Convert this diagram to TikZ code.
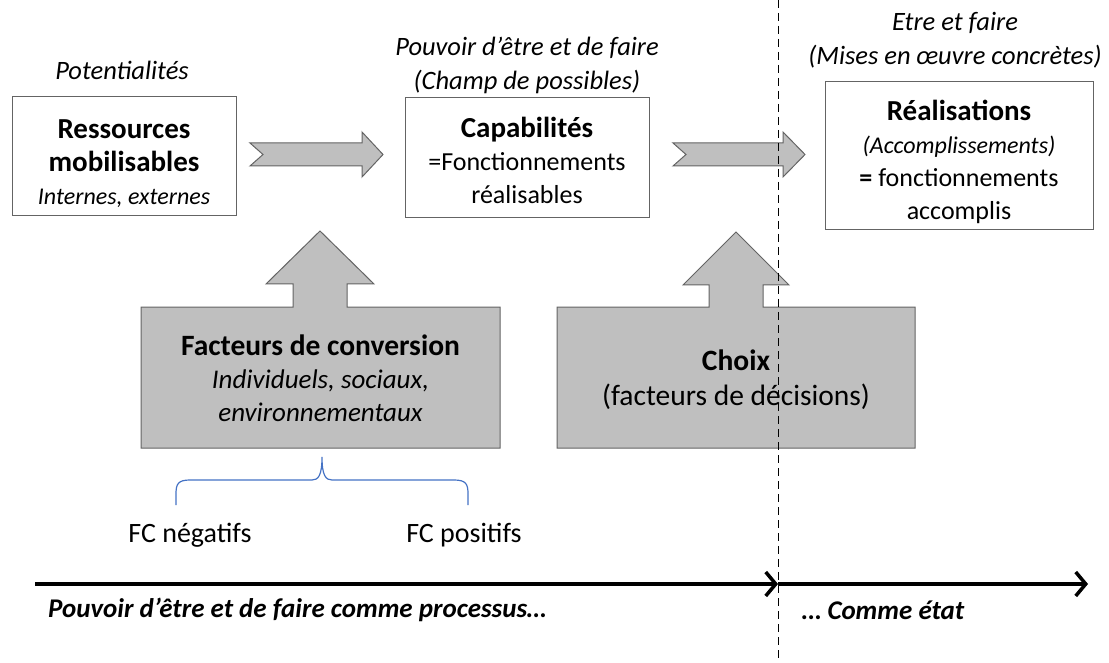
\documentclass[tikz,border=0pt]{standalone}
\usepackage{fontspec}
\setmainfont{Carlito}
\usetikzlibrary{positioning}
\usetikzlibrary{arrows.meta}
\definecolor{blocgris}{RGB}{191,191,191}
\definecolor{traitgris}{RGB}{100,100,100}
\definecolor{accolade}{RGB}{68,114,196}
\newcommand{\gros}[1]{{\fontsize{29}{33}\selectfont\bfseries #1}}
\newcommand{\pench}[1]{{\fontsize{24}{33}\selectfont\itshape #1}}
\tikzset{boite/.style = {draw=traitgris, line width=1pt, fill=white, inner sep=0}}
\tikzset{bloc/.style = {draw=traitgris, line width=1pt, fill=blocgris}}
\tikzset{texte/.style = {align=center, inner sep=0, font=\fontsize{26}{33}\selectfont}}
\tikzset{titre/.style = {texte, font=\fontsize{26.5}{34}\selectfont\itshape}}

\begin{document}
\begin{tikzpicture}[x=1pt, y=-1pt]
    \useasboundingbox (0, 0) rectangle (1109, 663);

    % boites du haut
    \node [boite, minimum width=224, minimum height=119] (res) at (124, 156.5) {};
    \node [texte] (resT) at (124, 164) {\gros{Ressources}\\ \gros{mobilisables}\\ \pench{Internes, externes}};
    \node [boite, minimum width=244, minimum height=120] (cap) at (527, 158) {};
    \node [texte] (capT) at (527, 160) {\gros{Capabilités}\\ =Fonctionnements\\ réalisables};
    \node [boite, minimum width=268, minimum height=148] (rea) at (959, 156) {};
    \node [texte] (reaT) at (959, 162) {\gros{Réalisations}\\ \pench{(Accomplissements)}\\ \textbf{=} fonctionnements\\ accomplis};

    \node [titre] (pot) at (122, 70) {Potentialités};
    \node [titre] (pouv) at (527, 65) {Pouvoir d’être et de faire\\ (Champ de possibles)};
    \node [titre] (etre) at (955, 40) {Etre et faire\\ (Mises en œuvre concrètes)};

    % fleches a encoche
    \draw [bloc] (250, 143) -- (362, 143) -- (362, 132) -- (383, 154.5) -- (362, 177)
        -- (362, 166) -- (250, 166) -- (263, 154.5) -- cycle;
    \draw [bloc] (673, 143) -- (783, 143) -- (783, 132) -- (805, 154.5) -- (783, 177)
        -- (783, 166) -- (673, 166) -- (686, 154.5) -- cycle;

    % blocs gris avec fleche vers le haut
    \draw [bloc] (141, 307) -- (293, 307) -- (293, 284) -- (266, 284) -- (320, 231)
        -- (374, 284) -- (347, 284) -- (347, 307) -- (500, 307) -- (500, 448)
        -- (141, 448) -- cycle;
    \node [texte, font=\fontsize{27}{33}\selectfont\itshape] (fact) at (320.5, 378)
        {{\fontsize{29.5}{33}\selectfont\bfseries\upshape Facteurs de conversion}\\ Individuels, sociaux,\\ environnementaux};

    \draw [bloc] (557, 307) -- (709, 307) -- (709, 285) -- (683, 285) -- (736, 232)
        -- (789, 285) -- (763, 285) -- (763, 307) -- (915, 307) -- (915, 448)
        -- (557, 448) -- cycle;
    \node [texte, font=\fontsize{29.5}{35}\selectfont] (choix) at (736, 380)
        {\textbf{Choix}\\ (facteurs de décisions)};

    % accolade
    \draw [accolade, line width=1.2pt] (176, 505) -- (176, 494) .. controls (176, 484) and (178, 480) .. (190, 480)
        -- (312, 480) .. controls (318, 480) and (322, 476) .. (322, 457)
        .. controls (322, 476) and (326, 480) .. (332, 480) -- (454, 480)
        .. controls (466, 480) and (468, 484) .. (468, 494) -- (468, 505);
    \node [texte, font=\fontsize{28}{33}\selectfont] (neg) at (190, 535) {FC négatifs};
    \node [texte, font=\fontsize{28}{33}\selectfont] (pos) at (464, 535) {FC positifs};

    % ligne de separation
    \coordinate (sep1) at (778, 0);
    \coordinate (sep2) at (778, 663);
    \draw [dash pattern=on 8pt off 5pt, line width=1pt] (sep1) -- (sep2);

    % axe du bas
    \coordinate (t0) at (35, 584);
    \coordinate (t1) at (778, 584);
    \coordinate (t2) at (1088, 584);
    \draw [line width=4pt, -{Straight Barb[length=10pt, width=24pt, line width=3.5pt]}] (t0) -- (t1);
    \draw [line width=4pt, -{Straight Barb[length=10pt, width=24pt, line width=3.5pt]}] (t1) -- (t2);
    \node [texte, anchor=west, font=\fontsize{27}{30}\selectfont\bfseries\itshape] (proc) at (48, 610)
        {Pouvoir d’être et de faire comme processus…};
    \node [texte, anchor=west, font=\fontsize{27}{30}\selectfont\bfseries\itshape] (etat) at (802, 610)
        {… Comme état};
\end{tikzpicture}
\end{document}
